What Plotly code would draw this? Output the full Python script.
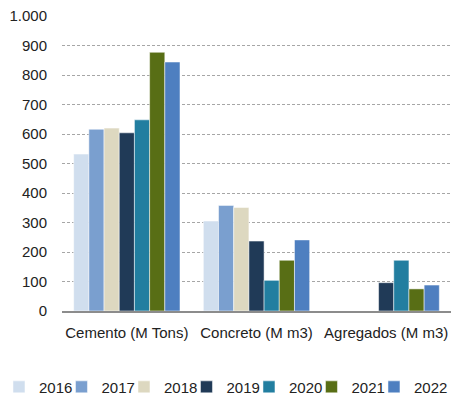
import plotly.graph_objects as go

categories = ["Cemento (M Tons)", "Concreto (M m3)", "Agregados (M m3)"]
years = ["2016", "2017", "2018", "2019", "2020", "2021", "2022"]
values = {
    "2016": [532, 305, None],
    "2017": [616, 358, None],
    "2018": [620, 351, None],
    "2019": [604, 237, 96],
    "2020": [648, 104, 172],
    "2021": [877, 172, 75],
    "2022": [844, 241, 88],
}
colors = ["#D0DEEE", "#7A9FCF", "#DDD8C0", "#203A57", "#227EA0", "#586E15", "#4E7FC0"]
tick_vals = [0, 100, 200, 300, 400, 500, 600, 700, 800, 900, 1000]
tick_text = ["0", "100", "200", "300", "400", "500", "600", "700", "800", "900", "1.000"]

fig = go.Figure()
for i, (y, c) in enumerate(zip(years, colors)):
    fig.add_trace(go.Bar(
        x=categories, y=values[y], name=y,
        marker=dict(color=c, line=dict(color="rgba(255,255,255,0.5)", width=1)),
        legendwidth=33 if i == len(years) - 1 else None,
    ))

fig.update_layout(
    width=451, height=400,
    margin=dict(l=62, r=0, t=16, b=89, autoexpand=False),
    paper_bgcolor="white", plot_bgcolor="white",
    font=dict(family="Liberation Sans, Arial, sans-serif", size=15, color="#222"),
    barmode="group", bargap=0.18, bargroupgap=0,
    showlegend=True,
    legend=dict(orientation="h", x=-0.162, xanchor="left", y=-0.258, yanchor="middle",
                entrywidth=17.5, entrywidthmode="pixels", font=dict(size=15),
                itemwidth=30, traceorder="normal"),
    xaxis=dict(showline=True, linecolor="#8c8c8c", linewidth=1.5, ticks="",
               showgrid=False, tickfont=dict(size=15), automargin=False,
               ticklabelstandoff=7),
    yaxis=dict(range=[0, 1000], tickvals=tick_vals, ticktext=tick_text,
               showgrid=True, gridcolor="#a6a6a6", gridwidth=1, griddash="3px,2px",
               zeroline=False, showline=False, ticks="", ticklabelstandoff=14,
               ticklabeloverflow="allow", tickfont=dict(size=15), automargin=False),
)
fig.write_html("out.html", config={"displayModeBar": False},
               post_script="document.body.style.margin='0';")
